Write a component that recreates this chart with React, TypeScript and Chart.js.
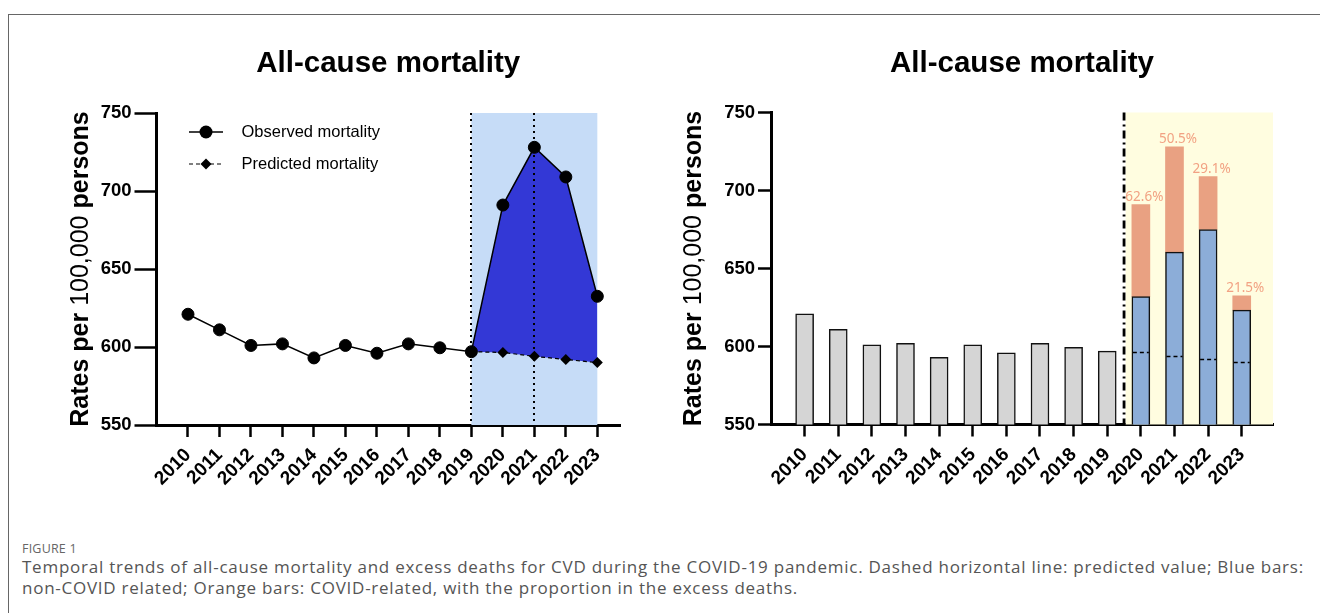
import React, { useEffect, useRef } from 'react';
import { Chart, registerables } from 'chart.js';

Chart.register(...registerables);

// ---- data ----
const years = [2010, 2011, 2012, 2013, 2014, 2015, 2016, 2017, 2018, 2019, 2020, 2021, 2022, 2023];
const observed = [621, 611, 601, 602, 593, 601, 596, 602, 599.5, 597, 691, 728, 709, 632.5];
const predictedYears = [2019, 2020, 2021, 2022, 2023];
const predicted = [597, 596.5, 594, 592, 590];
const pandemicYears = [2020, 2021, 2022, 2023];
const nonCovid = [632, 660.5, 675, 623.3];
const covidShare = [62.6, 50.5, 29.1, 21.5];
const yTicks = [550, 600, 650, 700, 750];
const dottedYears = [2019, 2021];
const chartTitle = 'All-cause mortality';
const legendLabels = ['Observed mortality', 'Predicted mortality'];

const FONT = '"Liberation Sans", Arial, Helvetica, sans-serif';

const valueOf = (yr: number) => observed[years.indexOf(yr)];
const predOf = (yr: number) => predicted[predictedYears.indexOf(yr)];

function buildScales(xMax: number, yAxisWidth: number, xAxisHeight: number, yTickLength: number) {
  return {
    x: {
      type: 'linear',
      min: 2009,
      max: xMax,
      offset: false,
      afterBuildTicks: (s: any) => {
        s.ticks = years.map((v) => ({ value: v }));
      },
      afterFit: (s: any) => {
        s.height = xAxisHeight;
      },
      grid: {
        display: true,
        offset: false,
        drawOnChartArea: false,
        drawTicks: true,
        tickLength: 12,
        tickWidth: 2.5,
        tickColor: '#000',
      },
      border: { display: true, color: '#000', width: 3 },
      ticks: {
        autoSkip: false,
        maxRotation: 45,
        minRotation: 45,
        padding: 7,
        color: '#000',
        font: { family: FONT, size: 19, weight: 'bold' },
        callback: (v: any) => String(v),
      },
    },
    y: {
      type: 'linear',
      min: 550,
      max: 750,
      afterBuildTicks: (s: any) => {
        s.ticks = yTicks.map((v) => ({ value: v }));
      },
      afterFit: (s: any) => {
        s.width = yAxisWidth;
      },
      grid: {
        display: true,
        drawOnChartArea: false,
        drawTicks: true,
        tickLength: yTickLength,
        tickWidth: 2.5,
        tickColor: '#000',
      },
      border: { display: true, color: '#000', width: 3 },
      ticks: {
        padding: 3,
        color: '#000',
        font: { family: FONT, size: 18.5, weight: 'bold' },
        callback: (v: any) => String(v),
      },
    },
  };
}

function drawTitle(chart: any) {
  const { ctx, chartArea: a } = chart;
  ctx.save();
  ctx.font = `bold 29.5px ${FONT}`;
  ctx.fillStyle = '#000';
  ctx.textAlign = 'center';
  ctx.textBaseline = 'alphabetic';
  ctx.fillText(chartTitle, (a.left + a.right) / 2, a.top - 41);
  ctx.restore();
}

function drawYTitle(chart: any, offset: number) {
  const { ctx, chartArea: a } = chart;
  const parts: [string, string][] = [
    ['Rates per ', 'bold'],
    ['100,000', 'normal'],
    [' persons', 'bold'],
  ];
  ctx.save();
  ctx.translate(a.left - offset, (a.top + a.bottom) / 2);
  ctx.rotate(-Math.PI / 2);
  ctx.fillStyle = '#000';
  ctx.textBaseline = 'middle';
  ctx.textAlign = 'left';
  const widths = parts.map(([t, w]) => {
    ctx.font = `${w} 25px ${FONT}`;
    return ctx.measureText(t).width;
  });
  let cx = -widths.reduce((s, v) => s + v, 0) / 2;
  parts.forEach(([t, w], i) => {
    ctx.font = `${w} 25px ${FONT}`;
    ctx.fillText(t, cx, 0);
    cx += widths[i];
  });
  ctx.restore();
}

// shaded pandemic window, dotted markers, legend and titles for the line panel
const linePanelDecor = {
  id: 'linePanelDecor',
  beforeDatasetsDraw(chart: any) {
    const { ctx, chartArea: a, scales } = chart;
    const x0 = scales.x.getPixelForValue(2019);
    const x1 = scales.x.getPixelForValue(2023);
    ctx.save();
    ctx.fillStyle = '#C6DCF7';
    ctx.fillRect(x0, a.top, x1 - x0, a.bottom - a.top);
    ctx.restore();
  },
  afterDatasetDraw(chart: any, args: any) {
    if (args.index !== 2) return;
    const { ctx, chartArea: a, scales } = chart;
    ctx.save();
    ctx.strokeStyle = '#000';
    ctx.lineWidth = 2;
    ctx.setLineDash([2, 4]);
    dottedYears.forEach((yr) => {
      const x = Math.round(scales.x.getPixelForValue(yr));
      ctx.beginPath();
      ctx.moveTo(x, a.top);
      ctx.lineTo(x, a.bottom);
      ctx.stroke();
    });
    ctx.restore();
  },
  afterDraw(chart: any) {
    const { ctx, chartArea: a } = chart;
    drawTitle(chart);
    drawYTitle(chart, 75);
    const lx0 = a.left + 32.5;
    const lx1 = a.left + 66.5;
    const mx = (lx0 + lx1) / 2;
    const tx = a.left + 85;
    const rows = [a.top + 19, a.top + 51];
    ctx.save();
    ctx.strokeStyle = '#000';
    ctx.fillStyle = '#000';
    // observed entry
    ctx.lineWidth = 1.5;
    ctx.beginPath();
    ctx.moveTo(lx0, rows[0]);
    ctx.lineTo(lx1, rows[0]);
    ctx.stroke();
    ctx.beginPath();
    ctx.arc(mx, rows[0], 6.5, 0, Math.PI * 2);
    ctx.fill();
    // predicted entry
    ctx.lineWidth = 1.2;
    ctx.setLineDash([4, 3]);
    ctx.beginPath();
    ctx.moveTo(lx0, rows[1]);
    ctx.lineTo(lx1, rows[1]);
    ctx.stroke();
    ctx.setLineDash([]);
    ctx.beginPath();
    ctx.moveTo(mx, rows[1] - 5.5);
    ctx.lineTo(mx + 5.5, rows[1]);
    ctx.lineTo(mx, rows[1] + 5.5);
    ctx.lineTo(mx - 5.5, rows[1]);
    ctx.closePath();
    ctx.fill();
    ctx.font = `16.5px ${FONT}`;
    ctx.textBaseline = 'middle';
    ctx.textAlign = 'left';
    ctx.fillText(legendLabels[0], tx, rows[0]);
    ctx.fillText(legendLabels[1], tx, rows[1]);
    ctx.restore();
  },
};

// yellow pandemic window, dash-dot divider, predicted ticks and share labels for the bar panel
const barPanelDecor = {
  id: 'barPanelDecor',
  beforeDatasetsDraw(chart: any) {
    const { ctx, chartArea: a, scales } = chart;
    const xd = scales.x.getPixelForValue(2019.5);
    ctx.save();
    ctx.fillStyle = '#FFFDE0';
    ctx.fillRect(xd + 1.5, a.top, a.right - xd - 1.5, a.bottom - a.top);
    ctx.strokeStyle = '#000';
    ctx.lineWidth = 2.8;
    ctx.setLineDash([8, 4, 2, 4]);
    ctx.beginPath();
    ctx.moveTo(xd, a.top);
    ctx.lineTo(xd, a.bottom);
    ctx.stroke();
    ctx.restore();
  },
  afterDatasetsDraw(chart: any) {
    const { ctx, scales } = chart;
    const blue = chart.getDatasetMeta(1).data;
    const orange = chart.getDatasetMeta(2).data;
    ctx.save();
    ctx.strokeStyle = '#000';
    ctx.lineWidth = 1.5;
    ctx.setLineDash([4, 3]);
    blue.forEach((bar: any, i: number) => {
      const { x, width } = bar.getProps(['x', 'width'], true);
      const y = Math.round(scales.y.getPixelForValue(predOf(pandemicYears[i]))) + 0.5;
      ctx.beginPath();
      ctx.moveTo(x - width / 2 + 1, y);
      ctx.lineTo(x + width / 2 - 1, y);
      ctx.stroke();
    });
    ctx.setLineDash([]);
    ctx.fillStyle = '#F2A283';
    ctx.font = `13.5px "Noto Sans", "Open Sans", sans-serif`;
    ctx.textAlign = 'center';
    ctx.textBaseline = 'bottom';
    orange.forEach((bar: any, i: number) => {
      const { x, y } = bar.getProps(['x', 'y'], true);
      ctx.fillText(`${covidShare[i].toFixed(1)}%`, x + 3.5, y - 1);
    });
    ctx.restore();
  },
  afterDraw(chart: any) {
    drawTitle(chart);
    drawYTitle(chart, 77);
  },
};

export default function App() {
  const lineRef = useRef<HTMLCanvasElement>(null);
  const barRef = useRef<HTMLCanvasElement>(null);

  useEffect(() => {
    Chart.defaults.font.family = FONT;

    const lineChart = new Chart(lineRef.current as HTMLCanvasElement, {
      type: 'line',
      data: {
        datasets: [
          {
            label: legendLabels[0],
            data: years.map((yr, i) => ({ x: yr, y: observed[i] })),
            borderColor: '#000',
            borderWidth: 1.5,
            pointRadius: 6,
            pointBorderWidth: 1,
            pointBackgroundColor: '#000',
            pointBorderColor: '#000',
            pointStyle: 'circle',
            tension: 0,
            fill: false,
          },
          {
            label: legendLabels[1],
            data: predictedYears.map((yr, i) => ({ x: yr, y: predicted[i] })),
            borderColor: '#000',
            borderWidth: 1.2,
            borderDash: [4, 3],
            pointRadius: 5.5,
            pointBorderWidth: 0,
            pointBackgroundColor: '#000',
            pointStyle: 'rectRot',
            tension: 0,
            fill: false,
          },
          {
            label: 'Excess',
            data: predictedYears.map((yr) => ({ x: yr, y: valueOf(yr) })),
            borderWidth: 0,
            borderColor: 'rgba(0,0,0,0)',
            pointRadius: 0,
            backgroundColor: '#3338D6',
            fill: 1,
            tension: 0,
          },
        ],
      },
      options: {
        responsive: false,
        animation: false,
        devicePixelRatio: 1,
        layout: { padding: { top: 93, right: 20, bottom: 0, left: 0 } },
        plugins: { legend: { display: false }, title: { display: false }, tooltip: { enabled: false } },
        scales: buildScales(2023.72, 136.5, 75, 22) as any,
      },
      plugins: [linePanelDecor],
    } as any);

    const barChart = new Chart(barRef.current as HTMLCanvasElement, {
      type: 'bar',
      data: {
        datasets: [
          {
            label: 'Observed',
            data: years.filter((yr) => yr < 2020).map((yr) => ({ x: yr, y: valueOf(yr) })),
            backgroundColor: '#D5D5D5',
            borderColor: '#111',
            borderWidth: 1.5,
            grouped: false,
            barThickness: 18,
          },
          {
            label: 'Non-COVID',
            data: pandemicYears.map((yr, i) => ({ x: yr, y: nonCovid[i] })),
            backgroundColor: '#8CADD8',
            borderColor: '#111',
            borderWidth: 1.5,
            grouped: false,
            barThickness: 18,
          },
          {
            label: 'COVID',
            data: pandemicYears.map((yr, i) => ({ x: yr, y: [nonCovid[i], valueOf(yr)] })),
            backgroundColor: '#E9A182',
            borderWidth: 0,
            grouped: false,
            barThickness: 18,
          },
        ],
      },
      options: {
        responsive: false,
        animation: false,
        devicePixelRatio: 1,
        layout: { padding: { top: 92.5, right: 27, bottom: 0, left: 0 } },
        plugins: { legend: { display: false }, title: { display: false }, tooltip: { enabled: false } },
        scales: buildScales(2023.93, 111, 75.5, 13) as any,
      },
      plugins: [barPanelDecor],
    } as any);

    return () => {
      lineChart.destroy();
      barChart.destroy();
    };
  }, []);

  const captionStyle: React.CSSProperties = {
    position: 'absolute',
    left: 22,
    whiteSpace: 'nowrap',
    fontFamily: '"Open Sans", "Noto Sans", sans-serif',
    fontSize: 17,
    letterSpacing: 0.75,
    color: '#555',
    lineHeight: '21px',
  };

  return (
    <div>
      <div
        style={{
          position: 'absolute',
          left: 8,
          top: 14,
          width: 1312,
          height: 599,
          boxSizing: 'border-box',
          borderTop: '1px solid #666',
          borderLeft: '1px solid #666',
        }}
      />
      <div style={{ position: 'absolute', left: 20, top: 20, width: 620, height: 480 }}>
        <canvas ref={lineRef} width={620} height={480} style={{ width: 620, height: 480 }} />
      </div>
      <div style={{ position: 'absolute', left: 660, top: 20, width: 640, height: 480 }}>
        <canvas ref={barRef} width={640} height={480} style={{ width: 640, height: 480 }} />
      </div>
      <div
        style={{
          ...captionStyle,
          top: 538,
          fontSize: 12.5,
          letterSpacing: 0.2,
          color: '#666',
        }}
      >
        FIGURE 1
      </div>
      <div style={{ ...captionStyle, top: 556 }}>
        Temporal trends of all-cause mortality and excess deaths for CVD during the COVID-19 pandemic. Dashed horizontal line: predicted value; Blue bars:
      </div>
      <div style={{ ...captionStyle, top: 577 }}>
        non-COVID related; Orange bars: COVID-related, with the proportion in the excess deaths.
      </div>
    </div>
  );
}
